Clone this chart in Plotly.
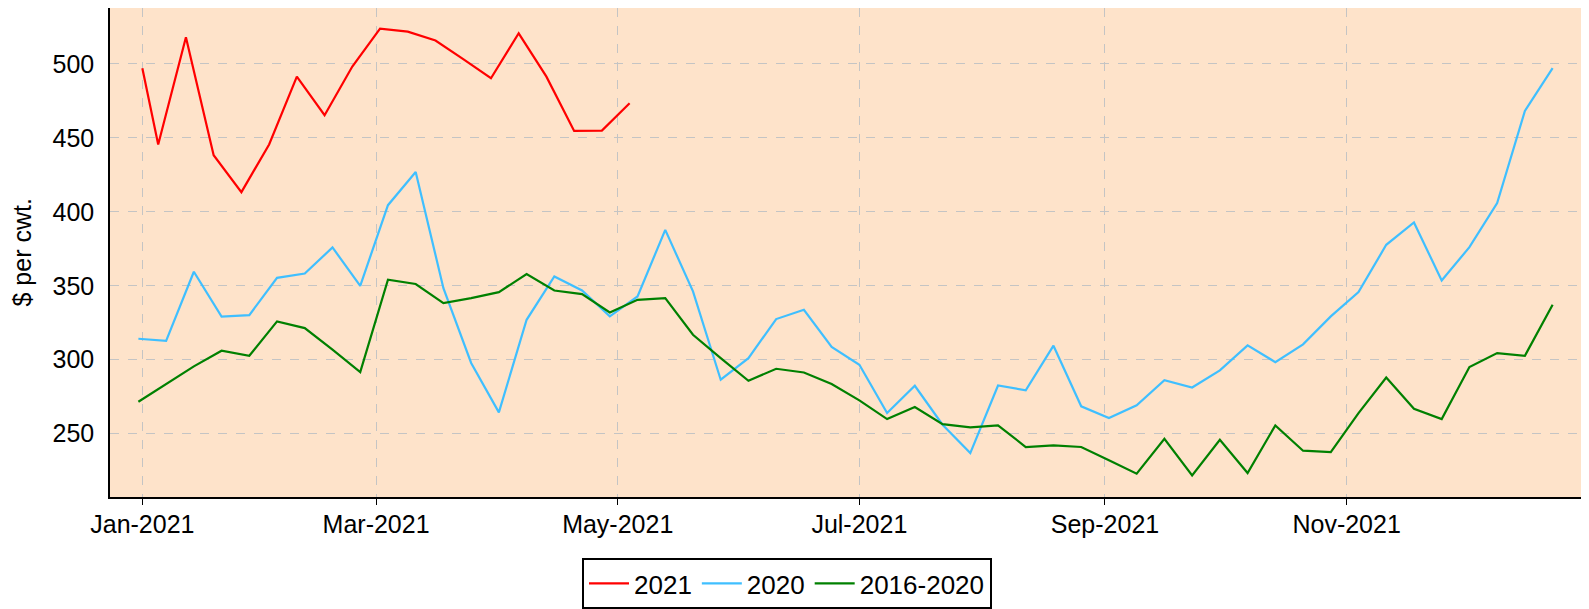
import plotly.graph_objects as go

dates_2021 = ["2021-01-01", "2021-01-05", "2021-01-12", "2021-01-19", "2021-01-26",
              "2021-02-02", "2021-02-09", "2021-02-16", "2021-02-23", "2021-03-02",
              "2021-03-09", "2021-03-16", "2021-03-23", "2021-03-30", "2021-04-06",
              "2021-04-13", "2021-04-20", "2021-04-27", "2021-05-04"]
values_2021 = [497.1, 445.5, 518.0, 438.3, 413.3, 445.5, 491.4, 465.3, 498.2, 523.9,
               521.8, 515.8, 503.2, 490.3, 520.7, 491.4, 454.7, 454.9, 473.4]

dates_hist = ["2020-12-31", "2021-01-07", "2021-01-14", "2021-01-21", "2021-01-28",
              "2021-02-04", "2021-02-11", "2021-02-18", "2021-02-25", "2021-03-04",
              "2021-03-11", "2021-03-18", "2021-03-25", "2021-04-01", "2021-04-08",
              "2021-04-15", "2021-04-22", "2021-04-29", "2021-05-06", "2021-05-13",
              "2021-05-20", "2021-05-27", "2021-06-03", "2021-06-10", "2021-06-17",
              "2021-06-24", "2021-07-01", "2021-07-08", "2021-07-15", "2021-07-22",
              "2021-07-29", "2021-08-05", "2021-08-12", "2021-08-19", "2021-08-26",
              "2021-09-02", "2021-09-09", "2021-09-16", "2021-09-23", "2021-09-30",
              "2021-10-07", "2021-10-14", "2021-10-21", "2021-10-28", "2021-11-04",
              "2021-11-11", "2021-11-18", "2021-11-25", "2021-12-02", "2021-12-09",
              "2021-12-16", "2021-12-23"]
values_2020 = [314.2, 312.8, 359.5, 329.1, 330.2, 355.4, 358.3, 375.9, 350.0, 404.5,
               426.9, 348.4, 297.8, 264.4, 327.0, 356.3, 346.8, 329.3, 342.8, 387.8,
               346.2, 286.5, 301.1, 327.5, 333.8, 308.6, 296.6, 264.0, 282.4, 256.1,
               236.9, 282.6, 279.3, 309.5, 268.5, 260.6, 269.2, 286.1, 281.2, 292.8,
               309.7, 298.4, 310.4, 329.3, 345.7, 377.7, 392.8, 353.6, 376.1, 405.9,
               468.2, 497.1]
values_avg = [271.6, 283.5, 295.5, 306.1, 302.7, 325.9, 321.4, 306.8, 291.7, 354.1,
              351.2, 338.3, 341.7, 345.7, 357.9, 346.8, 344.4, 332.0, 340.5, 341.7,
              316.9, 301.1, 285.8, 293.9, 291.4, 283.6, 272.5, 259.9, 268.0, 256.5,
              254.3, 255.6, 241.0, 242.1, 241.0, 232.0, 223.0, 246.6, 221.8, 245.9,
              223.4, 255.6, 238.5, 237.6, 263.9, 288.0, 266.9, 259.9, 295.1, 304.5,
              302.7, 337.2]

FONT = "Liberation Sans, Arial, sans-serif"

# page has an 8px body margin, so the figure is sized to fit inside the window
W, H = 1581, 601

fig = go.Figure()
fig.add_trace(go.Scatter(x=dates_2021, y=values_2021, mode="lines", name="2021",
                         line=dict(color="#FF0000", width=2.2)))
fig.add_trace(go.Scatter(x=dates_hist, y=values_2020, mode="lines", name="2020",
                         line=dict(color="#3FBFFF", width=2.2)))
fig.add_trace(go.Scatter(x=dates_hist, y=values_avg, mode="lines", name="2016-2020",
                         line=dict(color="#008000", width=2.2)))

fig.update_layout(
    width=W, height=H,
    margin=dict(l=102, r=7, t=0, b=112, autoexpand=False),
    paper_bgcolor="white",
    plot_bgcolor="#FEE3CA",
    font=dict(family=FONT, size=25, color="black"),
    showlegend=True,
    legend=dict(orientation="h", xref="container", yref="container",
                x=779.0 / W, xanchor="center", y=1 - 550.0 / H, yanchor="top",
                bgcolor="white", bordercolor="black", borderwidth=2,
                font=dict(size=26), itemwidth=40, tracegroupgap=0),
    xaxis=dict(
        type="date", automargin=False,
        range=["2020-12-23 20:00", "2021-12-30 10:00"],
        tick0="2021-01-01", dtick="M2", tickformat="%b-%Y",
        showgrid=True, gridcolor="#C4C4C4", griddash="dash", gridwidth=1.2,
        showline=True, linecolor="black", linewidth=1.5,
        ticks="outside", ticklen=6, tickcolor="black", tickwidth=1.2,
        ticklabelstandoff=-2,
        zeroline=False,
    ),
    yaxis=dict(
        automargin=False,
        range=[207.2, 537.8],
        tickvals=[250, 300, 350, 400, 450, 500],
        showgrid=True, gridcolor="#C4C4C4", griddash="dash", gridwidth=1.2,
        showline=True, linecolor="black", linewidth=1.5,
        ticks="", ticklabelstandoff=9,
        zeroline=False,
    ),
    annotations=[dict(text="$ per cwt.", textangle=-90, xref="paper", yref="paper",
                      x=0, y=0.5, xanchor="center", yanchor="middle",
                      xshift=-89, showarrow=False, font=dict(size=25))],
)

fig.write_html("out.html")
